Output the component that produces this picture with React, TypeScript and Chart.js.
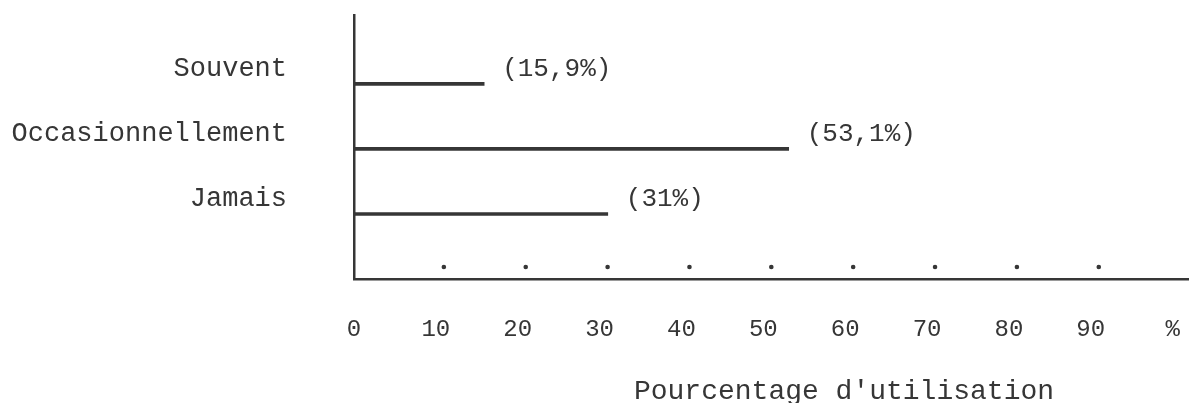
import React, { useEffect, useRef } from "react";
import { Chart, registerables } from "chart.js";

Chart.register(...registerables);

const categories = ["Souvent", "Occasionnellement", "Jamais"];
const values = [15.9, 53.1, 31];
const valueLabels = ["(15,9%)", "(53,1%)", "(31%)"];
const tickValues = [0, 10, 20, 30, 40, 50, 60, 70, 80, 90, 100];
const tickLabels = ["0", "10", "20", "30", "40", "50", "60", "70", "80", "90", "%"];
const dotValues = [10, 20, 30, 40, 50, 60, 70, 80, 90];
const axisTitle = "Pourcentage d'utilisation";

const INK = "#363636";
const FONT = "'Liberation Mono', 'DejaVu Sans Mono', monospace";

export default function App() {
  const ref = useRef<HTMLCanvasElement | null>(null);

  useEffect(() => {
    if (!ref.current) return;
    const n = categories.length;
    const zeroPad = (s: any) => {
      s.paddingTop = 0;
      s.paddingBottom = 0;
      s.paddingLeft = 0;
      s.paddingRight = 0;
    };
    const decor = {
      id: "decor",
      afterDatasetsDraw(chart: any) {
        const { ctx } = chart;
        const xs = chart.scales.x;
        const ys = chart.scales.y;
        ctx.save();
        ctx.fillStyle = INK;
        // dots above x axis
        dotValues.forEach((v) => {
          const px = xs.getPixelForValue(v) + 8;
          ctx.beginPath();
          ctx.arc(px, ys.bottom - 12, 2.3, 0, Math.PI * 2);
          ctx.fill();
        });
        // value labels
        ctx.font = `26px ${FONT}`;
        ctx.textBaseline = "middle";
        ctx.textAlign = "left";
        categories.forEach((c, i) => {
          const px = xs.getPixelForValue(values[i]) + 18;
          const py = ys.getPixelForValue(n - i) - 15;
          ctx.fillText(valueLabels[i], px, py);
        });
        // axis title
        ctx.font = `28px ${FONT}`;
        ctx.textAlign = "center";
        ctx.textBaseline = "alphabetic";
        ctx.fillText(axisTitle, xs.left + 490, 399);
        ctx.restore();
      },
    };

    const chart = new Chart(ref.current, {
      type: "bar",
      data: {
        datasets: [
          {
            data: categories.map((c, i) => ({ x: values[i], y: n - i })),
            backgroundColor: INK,
            borderWidth: 0,
            barThickness: 3,
          },
        ],
      },
      options: {
        indexAxis: "y",
        animation: false,
        responsive: false,
        maintainAspectRatio: false,
        layout: { padding: { top: 15, left: 0, right: 0, bottom: 0 } },
        plugins: { legend: { display: false }, tooltip: { enabled: false }, title: { display: false } },
        scales: {
          x: {
            type: "linear",
            min: 0,
            max: 102,
            offset: false,
            grid: { display: false, drawTicks: false, offset: false },
            border: { display: true, color: INK, width: 2.5 },
            afterBuildTicks: (s: any) => {
              s.ticks = tickValues.map((v) => ({ value: v }));
            },
            afterFit: (s: any) => {
              s.height = 124;
              zeroPad(s);
            },
            ticks: {
              autoSkip: false,
              maxRotation: 0,
              padding: 36,
              color: INK,
              font: { family: FONT, size: 24 },
              callback: (v: any) => tickLabels[tickValues.indexOf(Number(v))] ?? "",
            },
          },
          y: {
            type: "linear",
            min: 0,
            max: 4.06,
            offset: false,
            grid: { display: false, drawTicks: false, offset: false },
            border: { display: true, color: INK, width: 2.5 },
            afterBuildTicks: (s: any) => {
              s.ticks = categories.map((c, i) => ({ value: n - i }));
            },
            afterFit: (s: any) => {
              s.width = 354;
              zeroPad(s);
            },
            ticks: {
              autoSkip: false,
              padding: 67,
              labelOffset: -15,
              color: INK,
              font: { family: FONT, size: 27 },
              callback: (v: any) => categories[n - Number(v)] ?? "",
            },
          },
        },
      },
      plugins: [decor],
    } as any);
    return () => chart.destroy();
  }, []);

  return (
    <div style={{ position: "absolute", left: 0, top: 0, width: 1189, height: 403, background: "#fff" }}>
      <canvas ref={ref} width={1189} height={403} style={{ display: "block" }} />
    </div>
  );
}
